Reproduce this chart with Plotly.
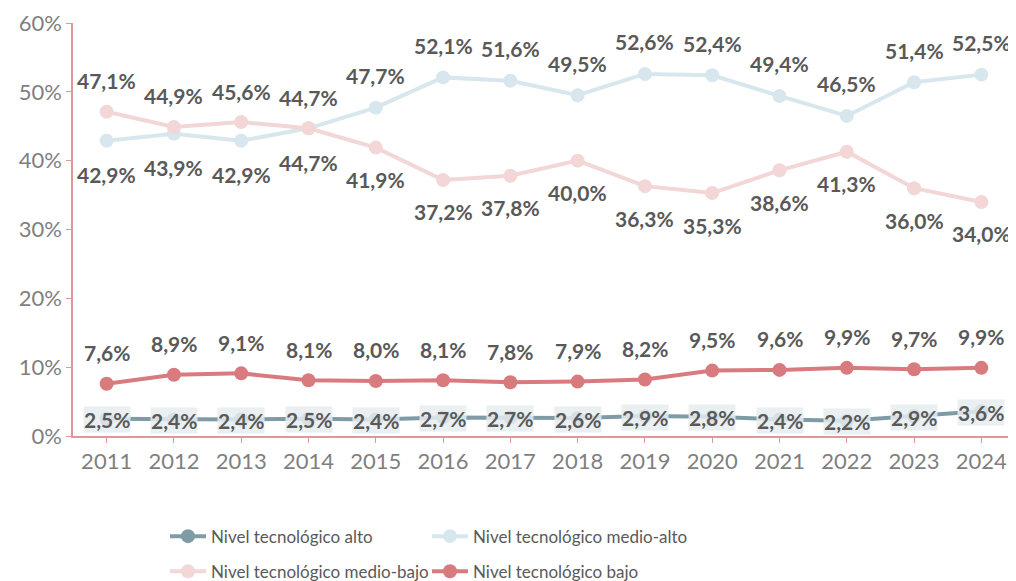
import plotly.graph_objects as go

years = [2011, 2012, 2013, 2014, 2015, 2016, 2017, 2018, 2019, 2020, 2021, 2022, 2023, 2024]
alto = [2.5, 2.4, 2.4, 2.5, 2.4, 2.7, 2.7, 2.6, 2.9, 2.8, 2.4, 2.2, 2.9, 3.6]
medio_alto = [42.9, 43.9, 42.9, 44.7, 47.7, 52.1, 51.6, 49.5, 52.6, 52.4, 49.4, 46.5, 51.4, 52.5]
medio_bajo = [47.1, 44.9, 45.6, 44.7, 41.9, 37.2, 37.8, 40.0, 36.3, 35.3, 38.6, 41.3, 36.0, 34.0]
bajo = [7.6, 8.9, 9.1, 8.1, 8.0, 8.1, 7.8, 7.9, 8.2, 9.5, 9.6, 9.9, 9.7, 9.9]
names = ["Nivel tecnológico alto", "Nivel tecnológico medio-alto",
         "Nivel tecnológico medio-bajo", "Nivel tecnológico bajo"]
y_ticks = [0, 10, 20, 30, 40, 50, 60]

c_alto = "#7f9ca6"
c_malto = "#d8e7ee"
c_mbajo = "#f3d6d6"
c_bajo = "#d97b7e"
axis_c = "#e0979b"
lab_c = "#595959"
font_f = "Lato, 'Open Sans', sans-serif"

def fmt(v):
    return f"{v:.1f}%".replace(".", ",")

fig = go.Figure()
series = [(medio_alto, c_malto, names[1], "legend2", 1),
          (medio_bajo, c_mbajo, names[2], "legend", 2),
          (bajo, c_bajo, names[3], "legend2", 2),
          (alto, c_alto, names[0], "legend", 1)]
for vals, col, nm, lg, rk in series:
    fig.add_trace(go.Scatter(x=years, y=vals, mode="lines+markers", name=nm,
                             line=dict(color=col, width=4),
                             marker=dict(color=col, size=14),
                             legend=lg, legendgroup=nm, legendrank=rk))

ann = []
for i, yr in enumerate(years):
    above = yr >= 2015
    ann.append(dict(x=yr, y=medio_alto[i], text=fmt(medio_alto[i]), showarrow=False,
                    yshift=32 if above else -34))
    ann.append(dict(x=yr, y=medio_bajo[i], text=fmt(medio_bajo[i]), showarrow=False,
                    yshift=-32 if above else 31))
    ann.append(dict(x=yr, y=bajo[i], text=fmt(bajo[i]), showarrow=False, yshift=31))
    ann.append(dict(x=yr, y=alto[i], text=fmt(alto[i]), showarrow=False, yshift=-1,
                    bgcolor="rgba(230,236,239,0.85)", borderpad=0))
for a in ann:
    a["font"] = dict(family=font_f, size=21, color=lab_c, weight="bold")
    a["xref"] = "x"
    a["yref"] = "y"

# page body has an 8px margin, so the figure is offset by 8px
fig.update_layout(
    width=1008, height=573,
    margin=dict(l=65, r=1, t=15, b=145, autoexpand=False),
    paper_bgcolor="white", plot_bgcolor="white",
    annotations=ann,
    font=dict(family=font_f, color="#7f7f7f", size=17),
    xaxis=dict(range=[2010.5, 2024.5], tickmode="array", tickvals=years,
               ticktext=[str(y) for y in years], showgrid=False, zeroline=False,
               showline=True, linecolor=axis_c, linewidth=1.5, tickangle=0,
               ticks="outside", ticklen=5, tickcolor=axis_c,
               tickfont=dict(size=22, color="#7f7f7f")),
    yaxis=dict(range=[0, 60], tickvals=y_ticks, ticktext=[f"{v}%" for v in y_ticks],
               showgrid=False, zeroline=False, showline=True, linecolor=axis_c,
               linewidth=1.5, ticks="outside", ticklen=5, tickcolor=axis_c,
               tickfont=dict(size=22, color="#7f7f7f")),
    legend=dict(x=(165 - 73) / 942, y=-0.2, xanchor="left", yanchor="top",
                orientation="v", font=dict(size=17, color=lab_c), tracegroupgap=10,
                traceorder="grouped", itemwidth=36, bgcolor="rgba(0,0,0,0)"),
    legend2=dict(x=(427 - 73) / 942, y=-0.2, xanchor="left", yanchor="top",
                 orientation="v", font=dict(size=17, color=lab_c), tracegroupgap=10,
                 traceorder="grouped", itemwidth=36, bgcolor="rgba(0,0,0,0)"),
)
fig.write_html("out.html")
